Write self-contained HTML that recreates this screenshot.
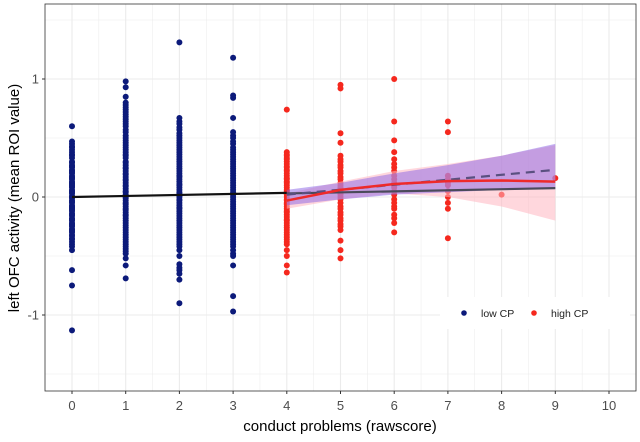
<!DOCTYPE html>
<html><head><meta charset="utf-8"><style>
body{margin:0;background:#fff;font-family:"Liberation Sans",sans-serif}
svg text{font-family:"Liberation Sans",sans-serif}
</style></head><body>
<svg id="chart" width="640" height="437" viewBox="0 0 640 437" xmlns="http://www.w3.org/2000/svg">
<rect width="640" height="437" fill="#fff"/>
<g id="grid"></g><g id="points"></g><g id="ribbons"></g><g id="lines"></g><g id="axes"></g>
</svg>
<script>
const xTicks=[0,1,2,3,4,5,6,7,8,9,10];
const yTicks=[-1,0,1];
const lowX=[0,1,2,3];
const lowY=[
[0.6,0.47,0.45,0.43,0.42,0.4,0.38,0.36,0.35,0.33,0.3,0.29,0.27,0.26,0.25,0.23,0.22,0.21,0.2,0.18,0.17,0.16,0.15,0.13,0.12,0.11,0.1,0.09,0.08,0.06,0.05,0.04,0.03,0.01,0,-0.01,-0.03,-0.04,-0.05,-0.07,-0.08,-0.09,-0.1,-0.11,-0.12,-0.14,-0.15,-0.16,-0.18,-0.19,-0.2,-0.22,-0.23,-0.24,-0.25,-0.27,-0.28,-0.29,-0.3,-0.32,-0.33,-0.35,-0.36,-0.38,-0.4,-0.42,-0.45,-0.62,-0.75,-1.13],
[0.98,0.93,0.85,0.8,0.78,0.76,0.74,0.72,0.7,0.68,0.66,0.64,0.62,0.6,0.57,0.55,0.52,0.5,0.48,0.46,0.44,0.42,0.4,0.38,0.36,0.35,0.33,0.3,0.29,0.27,0.25,0.24,0.22,0.2,0.19,0.17,0.15,0.14,0.12,0.1,0.09,0.07,0.05,0.04,0.02,0,-0.01,-0.03,-0.05,-0.06,-0.08,-0.1,-0.11,-0.13,-0.15,-0.16,-0.18,-0.2,-0.22,-0.24,-0.26,-0.28,-0.3,-0.32,-0.34,-0.36,-0.38,-0.4,-0.42,-0.44,-0.46,-0.48,-0.52,-0.58,-0.69],
[1.31,0.67,0.64,0.62,0.59,0.57,0.54,0.52,0.5,0.48,0.46,0.44,0.42,0.4,0.38,0.36,0.34,0.32,0.3,0.28,0.26,0.24,0.22,0.2,0.18,0.17,0.15,0.13,0.11,0.1,0.08,0.06,0.04,0.03,0.01,0,-0.02,-0.03,-0.05,-0.07,-0.09,-0.1,-0.12,-0.14,-0.16,-0.18,-0.2,-0.22,-0.24,-0.26,-0.28,-0.3,-0.32,-0.34,-0.36,-0.38,-0.4,-0.42,-0.45,-0.5,-0.57,-0.6,-0.62,-0.65,-0.7,-0.9],
[1.18,0.86,0.84,0.67,0.55,0.52,0.5,0.47,0.45,0.42,0.4,0.38,0.36,0.34,0.32,0.3,0.28,0.26,0.24,0.22,0.2,0.18,0.16,0.14,0.12,0.1,0.08,0.06,0.04,0.02,0,-0.02,-0.04,-0.06,-0.08,-0.1,-0.12,-0.14,-0.16,-0.18,-0.2,-0.22,-0.24,-0.26,-0.28,-0.3,-0.32,-0.34,-0.36,-0.38,-0.4,-0.42,-0.45,-0.48,-0.5,-0.58,-0.84,-0.97]];
const highX=[4,5,6,7,8,9];
const highY=[
[0.74,0.38,0.36,0.35,0.33,0.32,0.3,0.28,0.26,0.25,0.23,0.22,0.2,0.18,0.16,0.15,0.13,0.12,0.1,0.08,0.06,0.05,0.03,0.02,0,-0.02,-0.03,-0.05,-0.06,-0.08,-0.1,-0.12,-0.13,-0.15,-0.17,-0.19,-0.2,-0.22,-0.24,-0.26,-0.28,-0.3,-0.32,-0.34,-0.36,-0.38,-0.4,-0.45,-0.5,-0.58,-0.64],
[0.95,0.92,0.54,0.46,0.35,0.32,0.3,0.27,0.25,0.22,0.2,0.17,0.15,0.12,0.1,0.08,0.07,0.05,0.03,0.02,0,-0.02,-0.05,-0.08,-0.1,-0.13,-0.15,-0.18,-0.2,-0.23,-0.25,-0.28,-0.37,-0.45,-0.52],
[1.0,0.64,0.48,0.38,0.32,0.28,0.25,0.22,0.18,0.15,0.12,0.1,0.08,0.05,0.02,-0.02,-0.05,-0.08,-0.1,-0.15,-0.18,-0.22,-0.3],
[0.64,0.55,0.18,0.15,0.12,0.1,0.05,0,-0.05,-0.1,-0.35],
[0.02],[0.16]];
const blackLineX=[0,4], blackLineY=[0,0.035];
const grayLineX=[4,9], grayLineY=[0.03,0.075];
const dashLineX=[4,9], dashLineY=[0.02,0.23];
const redX=[4,5,6,7,8,9], redY=[-0.03,0.06,0.11,0.135,0.14,0.13];
const purpleBandX=[4,5,6,7,8,9], purpleLo=[-0.07,-0.02,0.02,0.04,0.06,0.07], purpleHi=[0.06,0.12,0.2,0.27,0.35,0.45];
const pinkBandX=[4,5,6,7,8,9], pinkLo=[-0.1,-0.02,0.03,0.0,-0.08,-0.2], pinkHi=[0.03,0.13,0.22,0.28,0.35,0.44];

const X=v=>72+v*53.7, Y=v=>197-v*118;
const L=45,R=636,T=4,B=391;
const NS="http://www.w3.org/2000/svg";
function mk(p,t,a){const e=document.createElementNS(NS,t);for(const k in a)e.setAttribute(k,a[k]);p.appendChild(e);return e;}
const grid=document.getElementById('grid'),rib=document.getElementById('ribbons'),pts=document.getElementById('points'),lines=document.getElementById('lines'),axes=document.getElementById('axes');
for(let v=-0.5;v<=10.5;v+=0.5){const g=mk(grid,'line',{x1:X(v),x2:X(v),y1:T,y2:B,stroke:'#ebebeb','stroke-width':Number.isInteger(v)?1.1:0.5});
}
for(let v=-1.5;v<=1.5;v+=0.5){const g=mk(grid,'line',{x1:L,x2:R,y1:Y(v),y2:Y(v),stroke:'#ebebeb','stroke-width':Number.isInteger(v)?1.1:0.5});
}
function band(xs,lo,hi,fill,op,name){let d='M'+xs.map((x,i)=>X(x)+','+Y(hi[i])).join('L');for(let i=xs.length-1;i>=0;i--)d+='L'+X(xs[i])+','+Y(lo[i]);d+='Z';
const e=mk(rib,'path',{d:d,fill:fill,'fill-opacity':op});}
band(pinkBandX,pinkLo,pinkHi,'#ffb6c1',0.55,'high-cp-confidence-band');
band(purpleBandX,purpleLo,purpleHi,'#8a63e6',0.5,'low-cp-confidence-band');
lowX.forEach((x,i)=>lowY[i].forEach(y=>{const c=mk(pts,'circle',{cx:X(x),cy:Y(y),r:3,fill:'#0c1a7a'});
}));
highX.forEach((x,i)=>highY[i].forEach(y=>{const c=mk(pts,'circle',{cx:X(x),cy:Y(y),r:3,fill:'#f5281e'});
}));
function line(xs,ys,st,w,dash,name){const e=mk(lines,'polyline',{points:xs.map((x,i)=>X(x)+','+Y(ys[i])).join(' '),fill:'none',stroke:st,'stroke-width':w,'stroke-dasharray':dash||'none'});
}
line(blackLineX,blackLineY,'#111',2.2,null,'low-cp-fit-line');
line(grayLineX,grayLineY,'#4a4a5a',2.2,null,'extrapolated-fit-line');
line(dashLineX,dashLineY,'#5a5080',2.2,'9,6','dashed-fit-line');
line(redX,redY,'#ee2a2a',2.5,null,'high-cp-fit-curve');
const fr=mk(axes,'rect',{x:L,y:T,width:R-L,height:B-T,fill:'none',stroke:'#333','stroke-width':0.8});

xTicks.forEach(v=>{mk(axes,'line',{x1:X(v),x2:X(v),y1:B,y2:B+3,stroke:'#333'});
const t=mk(axes,'text',{x:X(v),y:B+19,'text-anchor':'middle','font-size':13,fill:'#4d4d4d'});t.textContent=v;
});
yTicks.forEach(v=>{mk(axes,'line',{x1:L-3,x2:L,y1:Y(v),y2:Y(v),stroke:'#333'});
const t=mk(axes,'text',{x:L-6,y:Y(v)+4.5,'text-anchor':'end','font-size':13,fill:'#4d4d4d'});t.textContent=v;
});
const xt=mk(axes,'text',{x:340,y:431,'text-anchor':'middle','font-size':15,fill:'#000'});xt.textContent='conduct problems (rawscore)';

const yt=mk(axes,'text',{x:0,y:0,'text-anchor':'middle','font-size':15,fill:'#000',transform:'translate(19,198) rotate(-90)'});yt.textContent='left OFC activity (mean ROI value)';

const lg=mk(axes,'g',{});
mk(lg,'rect',{x:440,y:297,width:190,height:32,fill:'#fff'});
const d1=mk(lg,'circle',{cx:464,cy:313,r:2.8,fill:'#0c1a7a'});
const t1=mk(lg,'text',{x:481,y:317,'font-size':10.5,fill:'#222'});t1.textContent='low CP';
const d2=mk(lg,'circle',{cx:534,cy:313,r:2.8,fill:'#f5281e'});
const t2=mk(lg,'text',{x:551,y:317,'font-size':10.5,fill:'#222'});t2.textContent='high CP';
</script>
</body></html>
